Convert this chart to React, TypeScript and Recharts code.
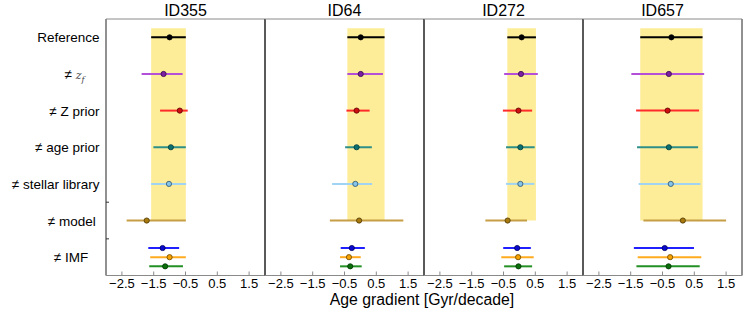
import React from 'react';
import { ScatterChart, Scatter, ErrorBar, XAxis, YAxis, ReferenceArea, ReferenceLine } from 'recharts';

// ---------- data ----------
const panelTitles = ['ID355', 'ID64', 'ID272', 'ID657'];
const rowLabels = ['Reference', '≠ z_f', '≠ Z prior', '≠ age prior', '≠ stellar library', '≠ model', '≠ IMF'];
const rowPositions = [0, 1, 2, 3, 4, 5, 6];
const seriesRows = [0, 1, 2, 3, 4, 5, 5.75, 6, 6.25];
const xTicks = [-2.5, -1.5, -0.5, 0.5, 1.5];

const id355Mid = [-1.0, -1.19, -0.68, -0.96, -1.02, -1.72, -1.22, -1.0, -1.14];
const id355Lo = [-1.58, -1.88, -1.3, -1.51, -1.58, -2.35, -1.67, -1.61, -1.64];
const id355Hi = [-0.49, -0.59, -0.43, -0.49, -0.48, -0.49, -0.7, -0.49, -0.58];

const id64Mid = [0.01, 0.01, -0.12, -0.12, -0.16, -0.04, -0.27, -0.36, -0.32];
const id64Lo = [-0.41, -0.41, -0.44, -0.48, -0.89, -0.96, -0.62, -0.64, -0.64];
const id64Hi = [0.76, 0.71, 0.29, 0.36, 0.37, 1.35, 0.14, 0.01, 0.04];

const id272Mid = [0.07, 0.05, -0.03, 0.03, 0.03, -0.37, -0.07, -0.04, -0.03];
const id272Lo = [-0.38, -0.48, -0.52, -0.42, -0.42, -1.07, -0.51, -0.57, -0.48];
const id272Hi = [0.52, 0.58, 0.4, 0.48, 0.47, 0.24, 0.36, 0.45, 0.4];

const id657Mid = [-0.22, -0.3, -0.34, -0.3, -0.24, 0.14, -0.43, -0.26, -0.31];
const id657Lo = [-1.2, -1.48, -1.33, -1.3, -1.25, -1.1, -1.4, -1.28, -1.32];
const id657Hi = [0.76, 0.81, 0.65, 0.62, 0.69, 1.5, 0.49, 0.72, 0.67];

const panelMid = [id355Mid, id64Mid, id272Mid, id657Mid];
const panelLo = [id355Lo, id64Lo, id272Lo, id657Lo];
const panelHi = [id355Hi, id64Hi, id272Hi, id657Hi];

// ---------- styles ----------
const lineColors = ['#000000', '#b34fd9', '#ff2b2b', '#2e8f88', '#a0d4f2', '#c69e45', '#2020ff', '#ffab1f', '#239023'];
const fillColors = ['#000000', '#7b1fa2', '#cc1010', '#0a7070', '#86c5ea', '#a8790f', '#0a0acc', '#f5a300', '#0a6e0a'];
const edgeColors = ['#000000', '#3a0a4a', '#5a0000', '#053838', '#2f4f66', '#4a3500', '#000060', '#6b4500', '#003300'];

const FONT = '"Liberation Sans", Arial, Helvetica, sans-serif';
const PANEL_LEFTS = [106, 265, 424, 583];
const PANEL_W = 159;
const PAD = 20;
const LABEL_SIZE = 13.5;

const fmt = (v: number) => (v < 0 ? '\u2212' + Math.abs(v).toFixed(1) : v.toFixed(1));

const YTick = (props: any) => {
  const { x, y, payload } = props;
  const v = payload.value as number;
  if (!Number.isInteger(v)) {
    return <line x1={x + 6.5} x2={x + 9.5} y1={y} y2={y} stroke="#333" strokeWidth={1} />;
  }
  const label = rowLabels[rowPositions.indexOf(v)];
  if (label === '≠ z_f') {
    return (
      <text x={x} y={y} dy={5} textAnchor="end" fontSize={LABEL_SIZE} fill="#000" fontFamily={FONT}>
        ≠ <tspan fontFamily='"DejaVu Serif", serif' fontStyle="italic" fontSize={11} fill="#444">z</tspan>
        <tspan fontFamily='"DejaVu Serif", serif' fontStyle="italic" fontSize={8} fill="#444" dy={3}>f</tspan>
        <tspan dy={-3}>{'\u00a0\u00a0\u00a0\u00a0'}</tspan>
      </text>
    );
  }
  let pad = '';
  if (label === '≠ IMF') pad = '\u00a0\u00a0\u00a0';
  if (label === '≠ model') pad = '\u00a0';
  return (
    <text x={x} y={y} dy={5} textAnchor="end" fontSize={LABEL_SIZE} fill="#000" fontFamily={FONT}>
      {label + pad}
    </text>
  );
};

function Panel({ idx }: { idx: number }) {
  const mid = panelMid[idx];
  const lo = panelLo[idx];
  const hi = panelHi[idx];
  const first = idx === 0;
  const ml = first ? 0 : PAD;
  const width = first ? PANEL_LEFTS[0] + PANEL_W + PAD : PANEL_W + 2 * PAD;
  const left = first ? 0 : PANEL_LEFTS[idx] - PAD;
  const yTicks = [0, 1, 2, 3, 4, 4.5, 5, 5.5, 6];
  return (
    <div style={{ position: 'absolute', left, top: 0 }}>
      <ScatterChart width={width} height={317} margin={{ top: 19, right: PAD, bottom: 10.5, left: ml }}>
        <XAxis
          type="number"
          dataKey="x"
          domain={[-3, 2]}
          ticks={xTicks}
          interval={0}
          allowDataOverflow
          tickFormatter={fmt}
          tickSize={-4}
          tickMargin={7}
          height={31}
          stroke="#8a8a8a"
          tick={{ fill: '#000', fontSize: 13, fontFamily: FONT }}
        />
        <YAxis
          type="number"
          dataKey="y"
          domain={[-0.5, 6.5]}
          reversed
          hide={!first}
          width={106}
          ticks={yTicks}
          interval={0}
          tickLine={false}
          axisLine={false}
          tickSize={0}
          tickMargin={6.5}
          tick={<YTick />}
        />
        <ReferenceArea x1={lo[0]} x2={hi[0]} y1={-0.25} y2={5} fill="#fdec98" fillOpacity={1} stroke="none" />
        <ReferenceLine x={-3} stroke="#222" />
        <ReferenceLine x={2} stroke="#222" />
        <ReferenceLine y={-0.5} stroke="#8a8a8a" />
        {seriesRows.map((row, i) => (
          <Scatter
            key={i}
            data={[{ x: mid[i], y: row, err: [mid[i] - lo[i], hi[i] - mid[i]] }]}
            isAnimationActive={false}
            shape={(p: any) => (
              <circle cx={p.cx} cy={p.cy} r={2.6} fill={fillColors[i]} stroke={edgeColors[i]} strokeWidth={0.8} />
            )}
          >
            <ErrorBar
              dataKey="err"
              direction="x"
              width={0}
              stroke={lineColors[i]}
              strokeWidth={2}
              isAnimationActive={false}
            />
          </Scatter>
        ))}
      </ScatterChart>
    </div>
  );
}

export default function App() {
  return (
    <div style={{ position: 'absolute', left: 0, top: 0, width: 747, height: 317, fontFamily: FONT, background: '#fff' }}>
      {panelTitles.map((_, i) => (
        <Panel key={i} idx={i} />
      ))}
      <svg width={747} height={317} style={{ position: 'absolute', left: 0, top: 0, pointerEvents: 'none' }}>
        {panelTitles.map((t, i) => (
          <text key={t} x={PANEL_LEFTS[i] + PANEL_W / 2} y={16} textAnchor="middle" fontSize={16} fontFamily={FONT} fill="#000">
            {t}
          </text>
        ))}
        <text x={422} y={305} textAnchor="middle" fontSize={15.8} fontFamily={FONT} fill="#000">
          Age gradient [Gyr/decade]
        </text>
      </svg>
    </div>
  );
}
